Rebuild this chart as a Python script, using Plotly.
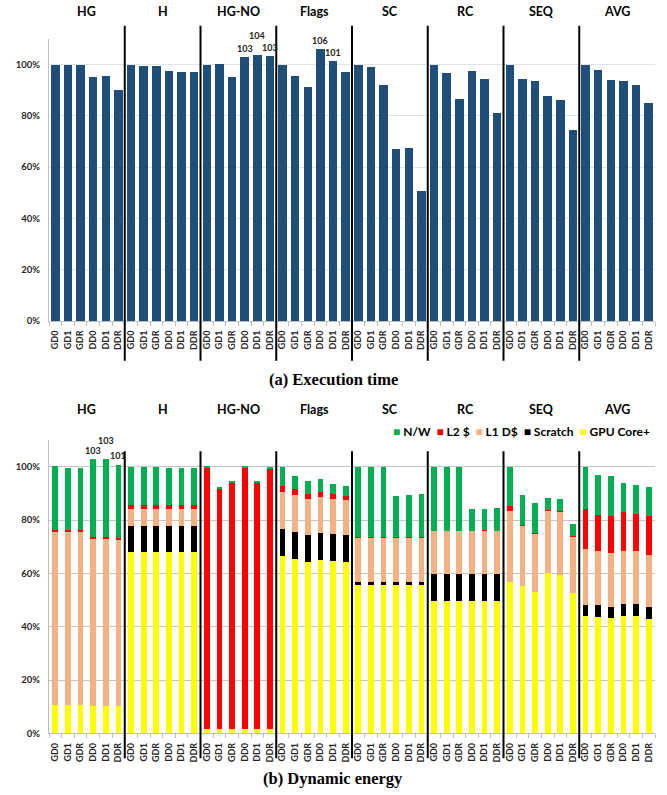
import plotly.graph_objects as go

# Benchmarks and configurations
groups = ["HG", "H", "HG-NO", "Flags", "SC", "RC", "SEQ", "AVG"]
configs = ["GD0", "GD1", "GDR", "DD0", "DD1", "DDR"]
y_ticks = [0, 20, 40, 60, 80, 100]

# (a) Execution time, normalized to GD0 (%)
exec_time = [
    100, 100, 100, 95.2, 95.7, 90.2,        # HG
    100, 99.6, 99.6, 97.4, 97.0, 97.0,      # H
    100, 100.4, 95.0, 102.9, 103.8, 103.4,  # HG-NO
    100, 95.7, 91.2, 106.1, 101.4, 97.2,    # Flags
    100, 99.1, 92.0, 67.2, 67.6, 50.8,      # SC
    100, 96.8, 86.8, 97.7, 94.6, 81.2,      # RC
    100, 94.6, 93.7, 87.6, 86.3, 74.4,      # SEQ
    100, 98.1, 94.0, 93.6, 92.2, 84.9,      # AVG
]

# (b) Dynamic energy breakdown, normalized to GD0 (%)
gpu_core = [
    10.4, 10.4, 10.4, 10.1, 10.1, 10.1,
    68.0, 68.0, 68.0, 68.0, 68.0, 68.0,
    1.7, 1.7, 1.7, 1.7, 1.7, 1.7,
    66.4, 65.5, 64.4, 65.1, 64.6, 64.25,
    55.9, 55.9, 55.9, 55.9, 55.9, 55.9,
    49.75, 49.75, 49.75, 49.75, 49.75, 49.75,
    56.7, 55.4, 53.0, 60.0, 59.4, 52.7,
    44.0, 43.5, 43.1, 44.1, 44.1, 43.0,
]
scratch = [
    0, 0, 0, 0, 0, 0,
    9.6, 9.6, 9.6, 9.6, 9.6, 9.6,
    0, 0, 0, 0, 0, 0,
    10.1, 10.0, 10.0, 10.0, 10.0, 10.0,
    0.7, 0.7, 0.7, 0.7, 0.7, 0.7,
    10.1, 10.1, 10.1, 10.1, 10.1, 10.1,
    0, 0, 0, 0, 0, 0,
    4.25, 4.4, 4.4, 4.3, 4.4, 4.25,
]
l1_d = [
    65.4, 65.4, 65.4, 62.8, 63.0, 62.4,
    6.4, 6.4, 6.4, 6.4, 6.4, 6.4,
    0, 0, 0, 0, 0, 0,
    13.9, 13.75, 13.35, 13.65, 13.4, 13.15,
    16.8, 16.8, 16.8, 16.65, 16.8, 16.8,
    16.1, 16.1, 16.1, 16.1, 16.1, 16.1,
    26.8, 22.4, 21.95, 23.6, 23.7, 21.2,
    21.0, 20.35, 20.1, 20.1, 19.75, 19.65,
]
l2 = [
    0.5, 0.5, 0.5, 0.6, 0.5, 0.6,
    1.75, 1.75, 1.75, 1.6, 1.6, 1.6,
    98.0, 90.1, 92.4, 98.0, 92.25, 97.75,
    2.35, 2.25, 2.15, 1.75, 1.75, 1.7,
    0.1, 0.1, 0.1, 0.3, 0.3, 0.3,
    0, 0, 0, 0, 0.3, 0,
    1.75, 0.3, 0.3, 0.2, 0.3, 0.2,
    15.0, 13.75, 13.9, 14.6, 14.0, 14.6,
]
network = [
    23.8, 23.3, 23.3, 29.2, 29.3, 27.5,
    14.25, 14.25, 14.25, 13.8, 13.8, 13.8,
    0.3, 0.3, 0.3, 0.3, 0.3, 0.3,
    7.25, 5.0, 4.85, 5.0, 3.65, 3.65,
    26.5, 26.5, 26.5, 15.45, 15.7, 16.2,
    24.05, 24.05, 24.05, 8.05, 7.75, 8.45,
    14.75, 11.3, 11.25, 4.6, 4.35, 4.3,
    15.75, 14.9, 15.0, 10.9, 10.75, 10.75,
]

W, H = 667, 795
FONT = "Lato"
TXT = "#262626"

n = len(exec_time)
xs = list(range(n))
ticktext = [c for _ in groups for c in configs]
G = len(configs)


def py(pix):
    """Pixel row -> paper y."""
    return 1 - pix / H


fig = go.Figure()

# Execution time bars
fig.add_trace(go.Bar(
    x=xs, y=exec_time, xaxis="x", yaxis="y",
    marker=dict(color="#1F4E79", line=dict(width=0)),
    width=0.68, showlegend=False, hoverinfo="x+y",
))

# Energy stack, bottom to top
series = [
    ("GPU Core+", gpu_core, "#FFFF00"),
    ("Scratch", scratch, "#000000"),
    ("L1 D$", l1_d, "#F4B183"),
    ("L2 $", l2, "#FF0000"),
    ("N/W", network, "#00B050"),
]
for name, vals, color in series:
    fig.add_trace(go.Bar(
        x=xs, y=vals, xaxis="x2", yaxis="y2", name=name,
        marker=dict(color=color, line=dict(width=0)),
        width=0.45, showlegend=False,
    ))

xdom = [49 / W, 655 / W]
top_dom = [py(323), py(39)]
bot_dom = [py(738), py(443)]

xaxis_common = dict(
    domain=xdom, range=[-0.5, n - 0.5],
    tickmode="array", tickvals=xs, ticktext=ticktext, tickangle=-90,
    tickfont=dict(family=FONT, size=9, color=TXT, weight="bold"),
    showgrid=False, zeroline=False, showline=True, linecolor="#bfbfbf", linewidth=1,
    ticks="", ticklabelstandoff=5, fixedrange=True,
    minor=dict(tickmode="array", tickvals=[i - 0.5 for i in range(n + 1)],
               ticks="outside", ticklen=4, tickcolor="#bfbfbf", showgrid=False),
)
yaxis_common = dict(
    range=[0, 110], tickmode="array", tickvals=y_ticks,
    ticktext=[f"{t}%" for t in y_ticks],
    tickfont=dict(family=FONT, size=9.5, color=TXT, weight="bold"),
    zeroline=False, showline=True, linecolor="#bfbfbf", linewidth=1,
    ticks="", ticklabelstandoff=6, fixedrange=True,
)

fig.update_layout(
    width=W, height=H, margin=dict(l=0, r=0, t=0, b=0),
    paper_bgcolor="white", plot_bgcolor="white",
    barmode="stack", bargap=0,
    showlegend=False,
    xaxis=dict(xaxis_common, anchor="y"),
    yaxis=dict(yaxis_common, domain=top_dom, anchor="x",
               showgrid=True, gridcolor="#e3e3e3", gridwidth=1),
    xaxis2=dict(xaxis_common, anchor="y2"),
    yaxis2=dict(yaxis_common, domain=bot_dom, anchor="x2",
                showgrid=True, gridcolor="#c4c4c4", gridwidth=1),
)

shapes = []
annotations = []

# Group separators and group titles
for g in range(1, len(groups)):
    b = g * G - 0.5
    shapes.append(dict(type="line", xref="x", yref="paper", x0=b, x1=b,
                       y0=py(363), y1=py(26), line=dict(color="black", width=2)))
    shapes.append(dict(type="line", xref="x2", yref="paper", x0=b, x1=b,
                       y0=py(763), y1=py(454), line=dict(color="black", width=2)))
for g, name in enumerate(groups):
    cx = g * G + (G - 1) / 2
    for xr, yy in (("x", 12), ("x2", 412)):
        annotations.append(dict(x=cx, xref=xr, y=py(yy), yref="paper", text=name,
                                xanchor="center", yanchor="middle", showarrow=False,
                                font=dict(family=FONT, size=12.5, color="black",
                                          weight="bold")))

# Value labels for bars exceeding 100%
top_raise = {16: 11}
for i, v in enumerate(exec_time):
    if v > 100.5:
        annotations.append(dict(x=i, xref="x", y=v, yref="y", text=str(round(v)),
                                showarrow=False, xanchor="center", yanchor="bottom",
                                yshift=1 + top_raise.get(i, 0),
                                font=dict(family=FONT, size=9, color=TXT, weight="bold")))

totals = [sum(t) for t in zip(gpu_core, scratch, l1_d, l2, network)]
bot_raise = {4: 9}
for i, v in enumerate(totals):
    if v > 100.5:
        annotations.append(dict(x=i, xref="x2", y=v, yref="y2", text=str(round(v)),
                                showarrow=False, xanchor="center", yanchor="bottom",
                                yshift=2 + bot_raise.get(i, 0),
                                font=dict(family=FONT, size=9, color=TXT, weight="bold")))

# Legend row (N/W first, matching the stack from the top down)
legend_parts = []
for name, _, color in reversed(series):
    legend_parts.append(f'<span style="color:{color}">\u25A0</span>\u00a0{name}')
annotations.append(dict(x=652 / W, xref="paper", y=py(434), yref="paper",
                        xanchor="right", yanchor="middle", showarrow=False,
                        text="\u00a0\u00a0".join(legend_parts),
                        font=dict(family=FONT, size=12, color="black", weight="bold")))

# Captions
for txt, yy in (("(a) Execution time", 382), ("(b) Dynamic energy", 783)):
    annotations.append(dict(x=333 / W, xref="paper", y=py(yy), yref="paper",
                            text=txt, showarrow=False, xanchor="center", yanchor="middle",
                            font=dict(family="Liberation Serif", size=16.5, color="black",
                                      weight="bold")))

fig.update_layout(shapes=shapes, annotations=annotations)

fig.write_html("out.html")
